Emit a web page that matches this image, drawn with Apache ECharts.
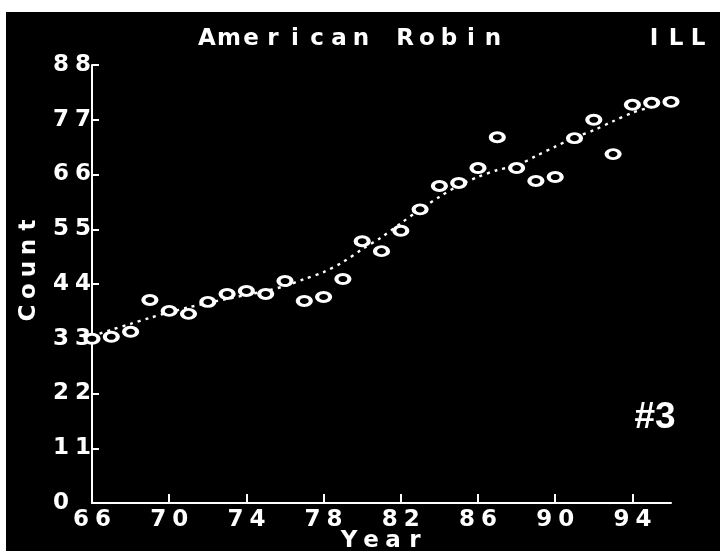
<!DOCTYPE html>
<html>
<head>
<meta charset="utf-8">
<script src="https://cdn.jsdelivr.net/npm/echarts@6/dist/echarts.min.js"></script>
<style>
  html, body { margin: 0; padding: 0; background: #fff; width: 720px; height: 551px; overflow: hidden; }
  #main { position: absolute; left: 6px; top: 12px; width: 714px; height: 539px; }
</style>
</head>
<body>
<div id="main"></div>
<script>
// Data
const years = [66, 67, 68, 69, 70, 71, 72, 73, 74, 75, 76, 77, 78, 79, 80, 81, 82, 83, 84, 85, 86, 87, 88, 89, 90, 91, 92, 93, 94, 95, 96];
const counts = [33, 33.4, 34.4, 40.8, 38.6, 38, 40.4, 42, 42.6, 42, 44.6, 40.6, 41.4, 45, 52.6, 50.6, 54.7, 59, 63.7, 64.3, 67.3, 73.5, 67.3, 64.7, 65.5, 73.3, 77, 70.1, 80, 80.4, 80.6];
const trendYears = [66, 67, 68, 69, 70, 71, 72, 73, 74, 75, 76, 77, 78, 79, 80, 81, 82, 83, 84, 85, 86, 87, 88, 89, 90, 91, 92, 93, 94, 95];
const trendValues = [33.5, 34.8, 36, 37.2, 38.3, 39.3, 40.2, 41.0, 41.8, 42.6, 43.6, 45.0, 46.4, 48.4, 51, 53.4, 56.2, 59, 61.5, 63.8, 65.5, 66.9, 67.8, 69.7, 71.6, 73.4, 74.9, 76.7, 78.4, 79.6];
const xTicks = [66, 70, 74, 78, 82, 86, 90, 94];
const titleText = 'American Robin';
const stateText = 'ILL';
const xName = 'Year';
const yName = 'Count';
const plateText = '#3';

function spaced(s) {
  return String(s).split('').map(c => '{c|' + (c === ' ' ? '\u00a0' : c) + '}').join('');
}
const charStyle = { width: 22, align: 'center', fontSize: 23, fontWeight: 'bold', fontFamily: 'DejaVu Sans', color: '#fff', fill: '#fff', lineHeight: 22 };

const chart = echarts.init(document.getElementById('main'));
chart.setOption({
  backgroundColor: '#000',
  animation: false,
  grid: { left: 86, right: 49, top: 53, bottom: 48 },
  xAxis: {
    type: 'value', min: 66, max: 96,
    axisLine: { show: true, lineStyle: { color: '#fff', width: 2 } },
    axisTick: { show: true, inside: true, length: 9, customValues: xTicks, lineStyle: { color: '#fff', width: 2 } },
    axisLabel: { customValues: xTicks, margin: 6, formatter: v => spaced(v), rich: { c: charStyle } },
    splitLine: { show: false }
  },
  yAxis: {
    type: 'value', min: 0, max: 88, interval: 11,
    axisLine: { show: true, lineStyle: { color: '#fff', width: 2 } },
    axisTick: { show: true, inside: true, length: 7, lineStyle: { color: '#fff', width: 2 } },
    axisLabel: { align: 'left', margin: 42, formatter: v => spaced(v), rich: { c: charStyle } },
    splitLine: { show: false }
  },
  graphic: [
    { type: 'text', x: 190, y: 27, style: { text: spaced(titleText), rich: { c: charStyle }, fill: '#fff', align: 'left', verticalAlign: 'middle' } },
    { type: 'text', x: 637, y: 27, style: { text: spaced(stateText), rich: { c: charStyle }, fill: '#fff', align: 'left', verticalAlign: 'middle' } },
    { type: 'text', x: 23, y: 257, rotation: Math.PI / 2, style: { text: spaced(yName), rich: { c: charStyle }, fill: '#fff', align: 'center', verticalAlign: 'middle' } },
    { type: 'text', x: 376, y: 529, style: { text: spaced(xName), rich: { c: charStyle }, fill: '#fff', align: 'center', verticalAlign: 'middle' } },
    { type: 'text', x: 649, y: 406, style: { text: plateText, fill: '#fff', font: 'bold 37px "Liberation Sans Narrow", "Liberation Sans", sans-serif', align: 'center', verticalAlign: 'middle' } }
  ],
  series: [
    {
      type: 'line',
      data: trendYears.map((y, i) => [y, trendValues[i]]),
      smooth: 0.3,
      showSymbol: false,
      lineStyle: { color: '#fff', width: 2.4, type: [3, 5] },
      z: 1
    },
    {
      type: 'scatter',
      data: years.map((y, i) => [y, counts[i]]),
      symbol: 'circle',
      symbolSize: [13, 9],
      itemStyle: { color: '#000', borderColor: '#fff', borderWidth: 3.5, opacity: 1 },
      z: 3
    }
  ]
});
</script>
</body>
</html>
